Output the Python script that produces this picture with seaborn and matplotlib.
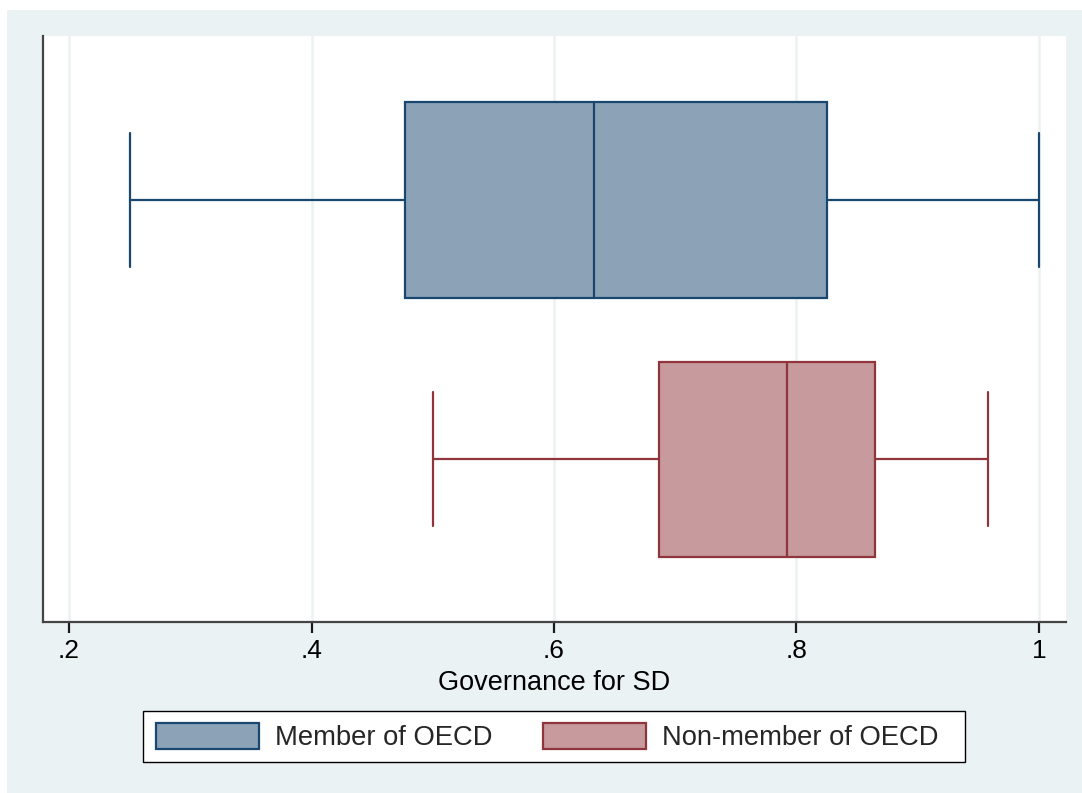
import numpy as np
import pandas as pd
import seaborn as sns
import matplotlib.pyplot as plt
from matplotlib.patches import Patch, Rectangle

# Governance for SD scores, summarised by OECD membership
groups = ["Member of OECD", "Non-member of OECD"]
member_scores = [0.250, 0.477, 0.633, 0.825, 1.000]
nonmember_scores = [0.500, 0.687, 0.792, 0.865, 0.958]
x_ticks = [0.2, 0.4, 0.6, 0.8, 1.0]
x_tick_labels = [".2", ".4", ".6", ".8", "1"]
x_label = "Governance for SD"

face_colors = ["#8CA3B7", "#C79A9D"]
edge_colors = ["#1A476F", "#90353B"]
bg_color = "#EAF2F3"

df = pd.DataFrame({
    "group": [groups[0]] * len(member_scores) + [groups[1]] * len(nonmember_scores),
    "score": member_scores + nonmember_scores,
})

sns.set_theme(style="white")
plt.rcParams["font.family"] = ["Liberation Sans", "DejaVu Sans"]

W, H = 1082, 793
fig = plt.figure(figsize=(W / 100, H / 100), dpi=100, facecolor="white")
fig.patches.append(Rectangle((7 / W, 0), 1, 1 - 10 / H, transform=fig.transFigure,
                             facecolor=bg_color, edgecolor="none", zorder=-10))
ax = fig.add_axes([43 / W, 1 - 622 / H, (1066 - 43) / W, (622 - 36) / H])
ax.set_facecolor("white")

for g, fc, ec in zip(groups, face_colors, edge_colors):
    sns.boxplot(data=df[df["group"] == g], x="score", y="group", order=groups,
                color=fc, linecolor=ec, saturation=1, width=0.753, linewidth=1.6,
                whis=1.5, capwidths=0.514, ax=ax)

ax.set_xlim(0.1785, 1.0223)
ax.set_ylim(1.629, -0.633)
ax.set_xticks(x_ticks)
ax.set_xticklabels(x_tick_labels)
ax.set_yticks([])
ax.set_ylabel("")
ax.set_xlabel(x_label, fontsize=19.5, color="black", labelpad=5)

ax.xaxis.grid(True, color=bg_color, linewidth=1.8)
ax.set_axisbelow(True)
for side in ["top", "right"]:
    ax.spines[side].set_visible(False)
for side in ["left", "bottom"]:
    ax.spines[side].set_color("#444444")
    ax.spines[side].set_linewidth(1.6)
ax.tick_params(axis="x", which="major", direction="out", bottom=True, length=8,
               width=1.6, color="#1A1A1A", labelsize=19, labelcolor="black", pad=4)

# legend frame below the plot, with the keys laid out inside it
fig.patches.append(Rectangle((143 / W, 1 - 762 / H), (965 - 143) / W, (762 - 711) / H,
                             transform=fig.transFigure, facecolor="white",
                             edgecolor="black", linewidth=1.0, zorder=1))
handles = [Patch(facecolor=fc, edgecolor=ec, linewidth=1.6) for fc, ec in zip(face_colors, edge_colors)]
leg = fig.legend(handles, groups, loc="center left", bbox_to_anchor=(156 / W, 1 - 737 / H),
                 ncol=2, frameon=False, fontsize=19.7, handlelength=3.75, handleheight=1.07,
                 handletextpad=0.6, columnspacing=1.85, borderpad=0, borderaxespad=0)
leg.set_zorder(2)

fig.savefig("out.png", dpi=100, facecolor=fig.get_facecolor())
